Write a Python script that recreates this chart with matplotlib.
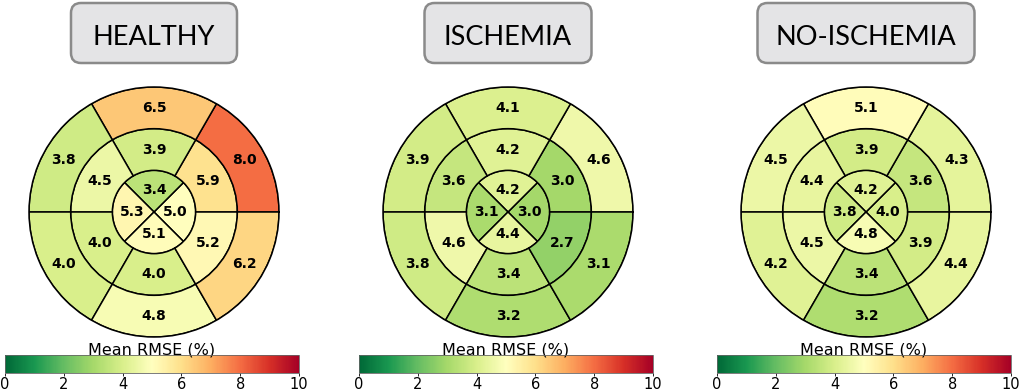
import matplotlib
matplotlib.use('Agg')
import matplotlib.pyplot as plt
import numpy as np
from matplotlib.patches import FancyBboxPatch
from matplotlib import colors
from matplotlib.transforms import Affine2D

# ---------------- data ----------------
titles = ['HEALTHY', 'ISCHEMIA', 'NO-ISCHEMIA']
# outer ring (basal) segments, counter-clockwise from 0 deg, centred at 30,90,150,210,270,330 deg
outer_healthy = [8.0, 6.5, 3.8, 4.0, 4.8, 6.2]
outer_ischemia = [4.6, 4.1, 3.9, 3.8, 3.2, 3.1]
outer_noischemia = [4.3, 5.1, 4.5, 4.2, 3.2, 4.4]
# mid ring segments, same angles
mid_healthy = [5.9, 3.9, 4.5, 4.0, 4.0, 5.2]
mid_ischemia = [3.0, 4.2, 3.6, 4.6, 3.4, 2.7]
mid_noischemia = [3.6, 3.9, 4.4, 4.5, 3.4, 3.9]
# inner (apical) segments centred at 0,90,180,270 deg
inner_healthy = [5.0, 3.4, 5.3, 5.1]
inner_ischemia = [3.0, 4.2, 3.1, 4.4]
inner_noischemia = [4.0, 4.2, 3.8, 4.8]
cbar_ticks = [0, 2, 4, 6, 8, 10]
cbar_label = 'Mean RMSE (%)'

outers = [outer_healthy, outer_ischemia, outer_noischemia]
mids = [mid_healthy, mid_ischemia, mid_noischemia]
inners = [inner_healthy, inner_ischemia, inner_noischemia]

# ---------------- layout ----------------
W, H = 1021, 391
fig = plt.figure(figsize=(W / 100, H / 100), dpi=100)
px = Affine2D().scale(1 / W, 1 / H) + fig.transFigure

centers = [154, 508, 866]
cy = 212
R = 125
box_w = [166, 167, 217]
cbar_x = [5, 359, 717]
cbar_w = 294
cbar_top, cbar_bot = 355, 373

cmap = plt.get_cmap('RdYlGn_r')
norm = colors.Normalize(vmin=0, vmax=10)

ring_theta6 = np.deg2rad(np.arange(30, 360, 60))
ring_theta4 = np.deg2rad(np.arange(0, 360, 90))

for i in range(3):
    cx = centers[i]
    ax = fig.add_axes([(cx - R) / W, (H - cy - R) / H, 2 * R / W, 2 * R / H],
                      projection='polar')
    ax.set_ylim(0, 3)
    ax.bar(ring_theta4, 1, width=np.pi / 2, bottom=0, align='center',
           color=cmap(norm(inners[i])), edgecolor='black', linewidth=1.1)
    ax.bar(ring_theta6, 1, width=np.pi / 3, bottom=1, align='center',
           color=cmap(norm(mids[i])), edgecolor='black', linewidth=1.1)
    ax.bar(ring_theta6, 1, width=np.pi / 3, bottom=2, align='center',
           color=cmap(norm(outers[i])), edgecolor='black', linewidth=1.1)
    for th, v in zip(ring_theta4, inners[i]):
        ax.text(th, 0.52, f'{v:.1f}', ha='center', va='center',
                fontsize=10, fontweight='bold')
    for th, v in zip(ring_theta6, mids[i]):
        ax.text(th, 1.5, f'{v:.1f}', ha='center', va='center',
                fontsize=10, fontweight='bold')
    for th, v in zip(ring_theta6, outers[i]):
        ax.text(th, 2.5, f'{v:.1f}', ha='center', va='center',
                fontsize=10, fontweight='bold')
    ax.grid(False)
    ax.set_xticks([])
    ax.set_yticks([])
    ax.spines['polar'].set_linewidth(1.1)

    # title box
    bw = box_w[i]
    box = FancyBboxPatch((cx - bw / 2, H - 63), bw, 60,
                         boxstyle='round,pad=0,rounding_size=10',
                         facecolor='#e4e4e6', edgecolor='#8a8a8a',
                         linewidth=1.8, transform=px)
    fig.patches.append(box)
    fig.text(cx, H - 45, titles[i], transform=px, ha='center', va='baseline',
             fontsize=19.5, family='Lato')

    # colorbar
    cax = fig.add_axes([cbar_x[i] / W, (H - cbar_bot) / H, cbar_w / W,
                        (cbar_bot - cbar_top) / H])
    sm = plt.cm.ScalarMappable(norm=norm, cmap=cmap)
    cb = fig.colorbar(sm, cax=cax, orientation='horizontal', ticks=cbar_ticks)
    cb.outline.set_linewidth(0.6)
    cb.outline.set_edgecolor('#666666')
    cax.tick_params(labelsize=10.5, length=2, width=0.6, pad=0.8)
    cax.xaxis.set_label_position('top')
    cb.set_label(cbar_label, fontsize=11.5, labelpad=0.5)

fig.savefig('out.png', dpi=100)
